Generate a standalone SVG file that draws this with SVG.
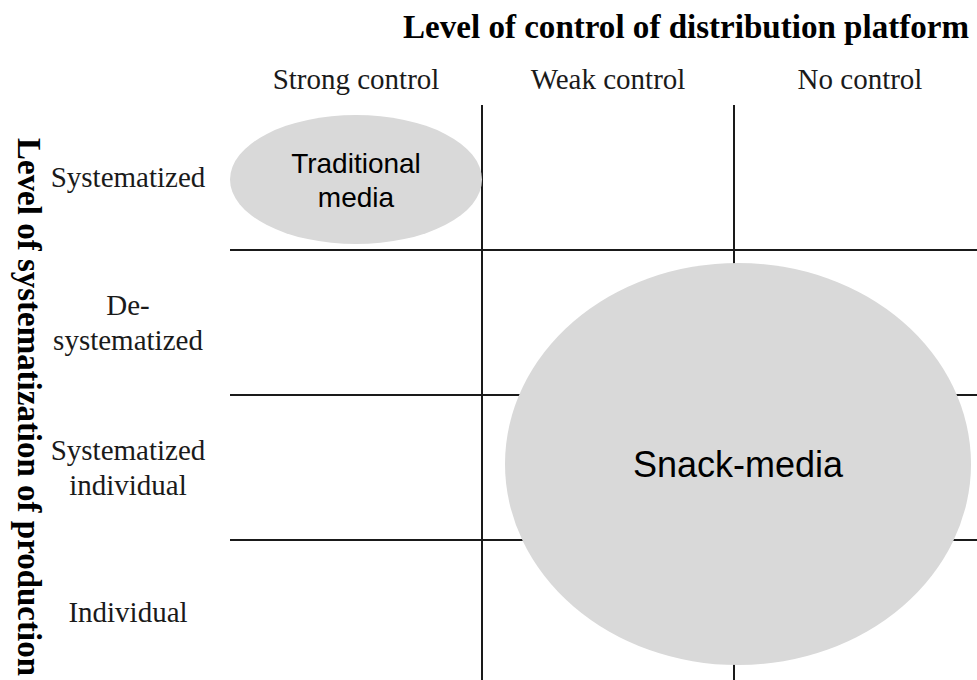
<svg xmlns="http://www.w3.org/2000/svg" width="977" height="680" viewBox="0 0 977 680">
<style>
.axis{font-family:"Liberation Serif","Times New Roman",serif;font-weight:bold;font-size:33px;fill:#000}
.lbl{font-family:"Liberation Serif","Times New Roman",serif;font-size:29px;fill:#1a1a1a;text-anchor:middle}
.node{fill:#d9d9d9;stroke:none}
.ntxt{font-family:"Liberation Sans",Arial,sans-serif;fill:#000;text-anchor:middle}
.grid line{stroke:#1a1a1a;stroke-width:2}
</style>
<rect width="977" height="680" fill="#fff"/>
<text class="axis" x="403" y="37.5" textLength="566" lengthAdjust="spacingAndGlyphs">Level of control of distribution platform</text>
<text class="axis" transform="translate(18,138) rotate(90)" x="0" y="0" textLength="538" lengthAdjust="spacingAndGlyphs">Level of systematization of production</text>
<g id="col-headers">
<text class="lbl" x="356" y="89">Strong control</text>
<text class="lbl" x="608" y="89">Weak control</text>
<text class="lbl" x="860" y="89">No control</text>
</g>
<g id="row-headers">
<text class="lbl" x="128" y="187">Systematized</text>
<text class="lbl" x="128" y="315">De-</text>
<text class="lbl" x="128" y="350">systematized</text>
<text class="lbl" x="128" y="460">Systematized</text>
<text class="lbl" x="128" y="495">individual</text>
<text class="lbl" x="128" y="622">Individual</text>
</g>
<g id="connectors" class="grid">
<line x1="482" y1="105" x2="482" y2="680"/>
<line x1="734" y1="105" x2="734" y2="680"/>
<line x1="230" y1="250" x2="977" y2="250"/>
<line x1="230" y1="395" x2="977" y2="395"/>
<line x1="230" y1="540" x2="977" y2="540"/>
</g>
<g id="traditional-media">
<ellipse class="node" cx="356" cy="179.5" rx="126" ry="64.5"/>
<text class="ntxt" x="356" y="173" font-size="28">Traditional</text>
<text class="ntxt" x="356" y="207" font-size="28">media</text>
</g>
<g id="snack-media">
<ellipse class="node" cx="738" cy="464" rx="233" ry="201"/>
<text class="ntxt" x="738" y="477" font-size="36">Snack-media</text>
</g>
</svg>
